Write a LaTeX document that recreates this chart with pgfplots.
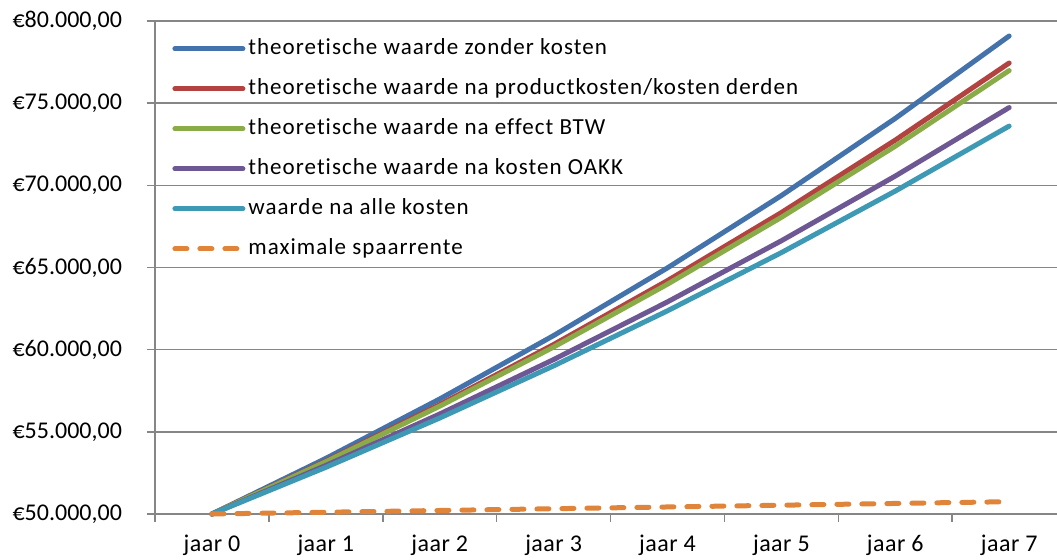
\documentclass[border=0pt]{standalone}
\usepackage{pgfplots}
\pgfplotsset{compat=1.18}
\usepackage{fontspec}
\setmainfont{Carlito}[Ligatures=NoCommon]
\newfontfamily\widefont{Carlito}[Ligatures=NoCommon, LetterSpace=4.5]
\newfontfamily\xfont{Carlito}[Ligatures=NoCommon, LetterSpace=2]
\definecolor{cblue}{RGB}{68,114,170}
\definecolor{cred}{RGB}{178,67,64}
\definecolor{cgreen}{RGB}{137,172,72}
\definecolor{cpurple}{RGB}{110,88,148}
\definecolor{cteal}{RGB}{62,153,180}
\definecolor{corange}{RGB}{224,132,58}
\definecolor{cgrid}{RGB}{134,134,134}
\begin{document}
\begin{tikzpicture}
\path[use as bounding box] (-77.5pt,-22.5pt) rectangle (451pt,257pt);
\begin{axis}[
  scale only axis, width=451pt, height=246.5pt,
  at={(0pt,0pt)}, anchor=south west,
  xmin=-0.5, xmax=7.42, ymin=50000, ymax=80000,
  scaled y ticks=false,
  axis x line*=bottom, axis y line*=left,
  axis line style={draw=cgrid, line width=0.75pt},
  ymajorgrids, grid style={draw=cgrid, line width=0.75pt},
  xtick={0,...,7},
  xticklabels={jaar 0,jaar 1,jaar 2,jaar 3,jaar 4,jaar 5,jaar 6,jaar 7},
  major x tick style={draw=none},
  minor xtick={-0.5,0.5,1.5,2.5,3.5,4.5,5.5,6.5},
  minor x tick style={draw=cgrid, line width=0.75pt},
  minor tick length=4pt,
  ytick={50000,55000,60000,65000,70000,75000,80000},
  yticklabels={{€50.000,00},{€55.000,00},{€60.000,00},{€65.000,00},{€70.000,00},{€75.000,00},{€80.000,00}},
  major y tick style={draw=cgrid, line width=0.75pt},
  major tick length=4pt,
  tick align=outside,
  tick label style={text=black},
  yticklabel style={font=\fontsize{12}{14}\selectfont, xshift=-9pt},
  xticklabel style={font=\xfont\fontsize{12}{14}\selectfont, yshift=-3pt},
  clip=false,
  legend cell align=left,
  legend style={at={(0,1)}, anchor=north west, xshift=8.5pt, yshift=-8.5pt,
    draw=none, fill=none, inner sep=0pt,
    font=\widefont\fontsize{11.5}{13}\selectfont,
    nodes={inner sep=0pt, text height=8pt, text depth=2.5pt},
    row sep=9.5pt,
    /tikz/every odd column/.append style={column sep=1.5pt}},
  legend image code/.code={\draw[#1] (0pt,0pt) -- (34pt,0pt);},
  every axis plot/.append style={line width=2.5pt, line cap=round, line join=round},
]
\addplot[cblue] coordinates {(0,50000) (1,53385) (2,56999) (3,60858) (4,64978) (5,69377) (6,74074) (7,79089)};
\addlegendentry{theoretische waarde zonder kosten}
\addplot[cred] coordinates {(0,50000) (1,53225) (2,56658) (3,60313) (4,64203) (5,68344) (6,72752) (7,77445)};
\addlegendentry{theoretische waarde na productkosten/kosten derden}
\addplot[cgreen] coordinates {(0,50000) (1,53180) (2,56562) (3,60159) (4,63985) (5,68054) (6,72382) (7,76985)};
\addlegendentry{theoretische waarde na effect BTW}
\addplot[cpurple] coordinates {(0,50000) (1,52955) (2,56084) (3,59399) (4,62909) (5,66627) (6,70565) (7,74735)};
\addlegendentry{theoretische waarde na kosten OAKK}
\addplot[cteal] coordinates {(0,50000) (1,52840) (2,55841) (3,59013) (4,62365) (5,65907) (6,69651) (7,73607)};
\addlegendentry{waarde na alle kosten}
\addplot[corange, dash pattern=on 6pt off 6.5pt] coordinates {(0,50000) (1,50107) (2,50214) (3,50321) (4,50428) (5,50535) (6,50642) (7,50750)};
\addlegendentry{maximale spaarrente}
\end{axis}
\end{tikzpicture}
\end{document}
